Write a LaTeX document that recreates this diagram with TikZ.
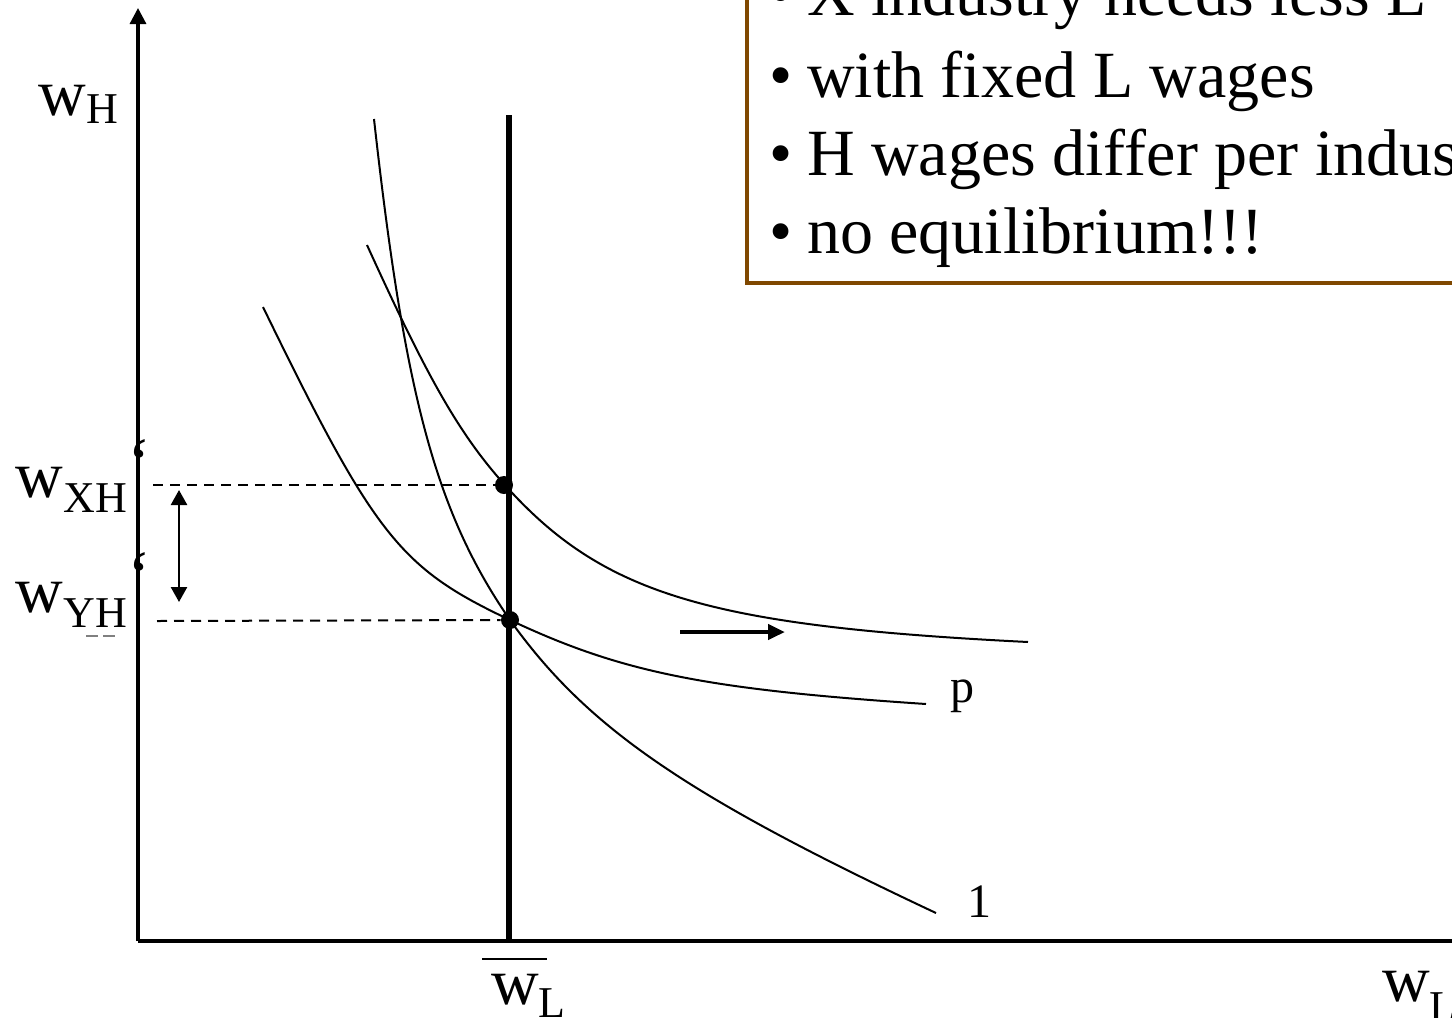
\documentclass[tikz,border=0pt]{standalone}
\usepackage{fontspec}
\setmainfont{Liberation Serif}
\usetikzlibrary{arrows.meta}
\definecolor{boxbrown}{RGB}{127,72,0}
\newcommand\wlab[3]{{\fontsize{33}{38}\selectfont #1}\raisebox{-#3}{\fontsize{22}{26}\selectfont #2}}
\newcommand\bul{\makebox[19pt][l]{•}}
\begin{document}
\begin{tikzpicture}[x=0.5pt,y=-0.5pt,
  axis/.style={line width=1.6pt},
  curveline/.style={line width=1pt},
  dashline/.style={line width=1pt, dash pattern=on 5pt off 3.5pt},
  dot/.style={circle, fill=black, inner sep=0pt, minimum size=9pt},
  lab/.style={anchor=base west, inner sep=0pt},
  btext/.style={anchor=base west, inner sep=0pt, font=\fontsize{33}{38}\selectfont},
  small/.style={anchor=base west, inner sep=0pt, font=\fontsize{24}{28}\selectfont},
  stray/.style={inner sep=0pt, font=\fontsize{36}{40}\selectfont}]
\path[use as bounding box] (0,0) rectangle (1452,1018);
\clip (0,0) rectangle (1452,1018);

% text box
\draw[line width=2pt, draw=boxbrown, fill=white] (747,-60) rectangle (1540,283);
\node[btext] (l1) at (768.7,15) {\bul X industry needs less L};
\node[btext] (l2) at (768.7,97) {\bul with fixed L wages};
\node[btext] (l3) at (768.7,175) {\bul H wages differ per industry};
\node[btext] (l4) at (768.7,253) {\bul no equilibrium!!!};

% axes
\coordinate (O) at (138,941);
\coordinate (ytop) at (138,8);
\coordinate (xend) at (1460,941);
\draw[axis, -{Triangle[width=8pt,length=8pt]}] (O) -- (ytop);
\draw[axis] (O) -- (xend);

% fixed wage line
\coordinate (vtop) at (509,115);
\coordinate (vbot) at (509,941);
\draw[line width=3pt] (vtop) -- (vbot);

% curve points
\coordinate (Astart) at (263,307);
\coordinate (Amid) at (510,620);
\coordinate (Aend) at (926,704);
\coordinate (Bstart) at (374,119);
\coordinate (Bend) at (936,913);
\coordinate (Cstart) at (367,245);
\coordinate (Cmid) at (504,484);
\coordinate (Cend) at (1028,642);

% curves
\draw[curveline] (Astart) .. controls (375,537) and (400,568) .. (Amid)
                          .. controls (621.4,672.4) and (704.6,689.2) .. (Aend);
\draw[curveline] (Bstart) .. controls (405,397.6) and (436.2,513) .. (Amid)
                          .. controls (587,727.8) and (685,795) .. (Bend);
\draw[curveline] (Cstart) .. controls (428,379.2) and (459.5,434.1) .. (Cmid)
                          .. controls (602.6,594.4) and (707.4,626) .. (Cend);

% equilibrium dots
\node[dot] (E1) at (504,485) {};
\node[dot] (E2) at (510,620) {};
\coordinate (dx1) at (153,485);
\coordinate (dx2) at (157,621);
\draw[dashline] (dx1) -- (E1);
\draw[dashline] (dx2) -- (E2);

% double arrow
\coordinate (da1) at (179,490);
\coordinate (da2) at (179,602);
\draw[line width=1.25pt, {Triangle[width=8pt,length=7.5pt]}-{Triangle[width=8pt,length=7.5pt]}] (da1) -- (da2);

% shift arrow
\coordinate (sa1) at (680,632);
\coordinate (sa2) at (785,632);
\draw[line width=2.25pt, -{Triangle[width=7.5pt,length=8.5pt]}] (sa1) -- (sa2);

% stray marks on the axis
\node[stray] (q1) at (139,464) {‘};
\node[stray] (q2) at (139,577) {‘};
\draw[gray, line width=0.6pt, dash pattern=on 6pt off 2.5pt] (86,636) -- (116,636);

% labels
\node[lab] (wH) at (38,115) {\wlab{w}{H}{4pt}};
\node[lab] (wXH) at (15.6,497) {\wlab{w}{XH}{7.5pt}};
\node[lab] (wYH) at (15.6,612) {\wlab{w}{YH}{7.5pt}};
\node[lab] (wLbar) at (490.6,1004) {\wlab{w}{L}{6.75pt}};
\coordinate (ob1) at (482,959);
\coordinate (ob2) at (547,959);
\draw[line width=1.25pt] (ob1) -- (ob2);
\node[lab] (wL) at (1381.6,1001) {\wlab{w}{L}{10pt}};
\node[small] (p) at (949.7,702) {p};
\node[small] (one) at (966.7,917.5) {1};
\end{tikzpicture}
\end{document}
